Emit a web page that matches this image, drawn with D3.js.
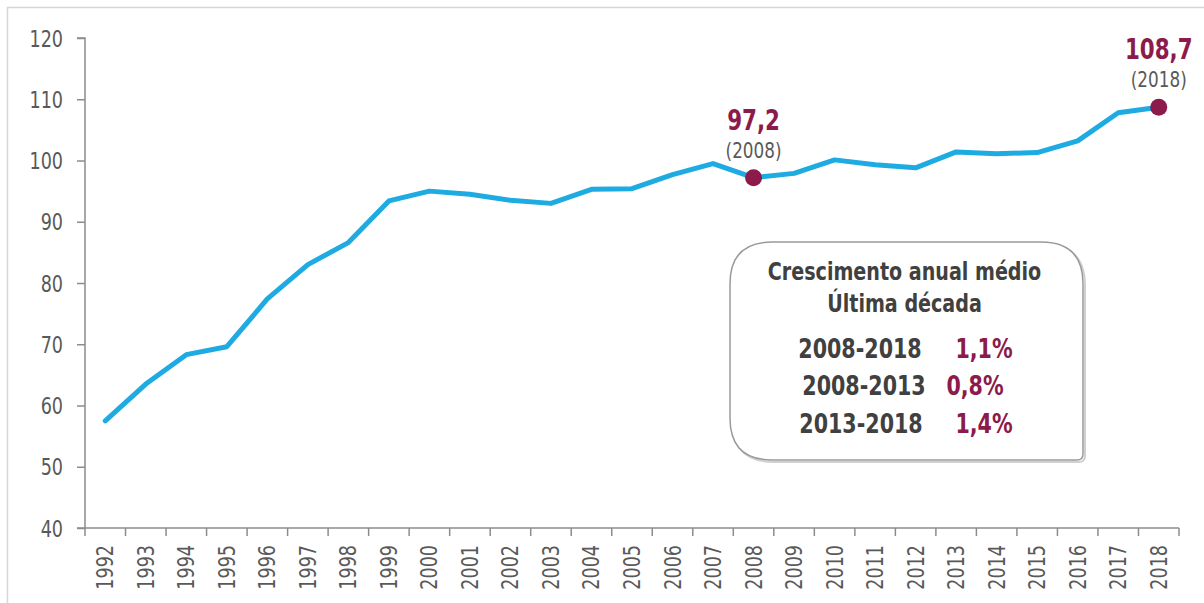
<!DOCTYPE html>
<html>
<head>
<meta charset="utf-8">
<script src="https://cdn.jsdelivr.net/npm/d3@7"></script>
<style>
  html, body { margin: 0; padding: 0; background: #fff; }
  svg { display: block; }
  text { font-family: "Liberation Sans Narrow", "DejaVu Sans Condensed", sans-serif; }
</style>
</head>
<body>
<svg id="chart" width="1204" height="603"></svg>
<script>
"use strict";

const years = [1992, 1993, 1994, 1995, 1996, 1997, 1998, 1999, 2000, 2001, 2002, 2003, 2004,
  2005, 2006, 2007, 2008, 2009, 2010, 2011, 2012, 2013, 2014, 2015, 2016, 2017, 2018];
const values = [57.5, 63.5, 68.3, 69.6, 77.4, 83.0, 86.6, 93.4, 95.0, 94.5, 93.5, 93.0, 95.3,
  95.4, 97.7, 99.5, 97.2, 97.9, 100.1, 99.3, 98.8, 101.4, 101.1, 101.3, 103.2, 107.8, 108.7];
const yTicks = [40, 50, 60, 70, 80, 90, 100, 110, 120];

const highlights = [
  { year: 2008, label: "97,2", sub: "(2008)" },
  { year: 2018, label: "108,7", sub: "(2018)" }
];

const boxTitle = ["Crescimento anual médio", "Última década"];
const boxPeriods = ["2008-2018", "2008-2013", "2013-2018"];
const boxRates = ["1,1%", "0,8%", "1,4%"];

const blue = "#1dabe2";
const maroon = "#8c1a4b";
const grey = "#595959";
const dark = "#404040";
const squeeze = 0.85; // condense the wide fallback font

const svg = d3.select("#chart");
const margin = { left: 85, right: 25, top: 38, bottom: 75 };
const width = 1204, height = 603;

// outer frame (top and left only visible)
svg.append("path")
  .attr("d", `M7.5,${height} V7.5 H${width}`)
  .attr("fill", "none")
  .attr("stroke", "#d6d6d6")
  .attr("stroke-width", 1.5);

const x = d3.scaleBand()
  .domain(years)
  .range([margin.left, width - margin.right]);

const y = d3.scaleLinear()
  .domain([40, 120])
  .range([height - margin.bottom, margin.top]);

const cx = (yr) => x(yr) + x.bandwidth() / 2;

// y axis
const yAxis = svg.append("g")
  .attr("transform", `translate(${margin.left},0)`)
  .call(d3.axisLeft(y).tickValues(yTicks).tickSize(8).tickPadding(14));
yAxis.selectAll("text").attr("font-size", 23).attr("fill", grey)
  .style("font-family", "'Liberation Sans Narrow', 'DejaVu Sans Condensed', sans-serif")
  .attr("x", null).attr("dy", null)
  .attr("transform", `translate(-22,8) scale(${squeeze},1)`);
yAxis.select(".domain").attr("stroke", "#8c8c8c").attr("stroke-width", 1.5)
  .attr("d", `M-8,${y(120)}H0V${y(40)}`);
yAxis.selectAll(".tick line").attr("stroke", "#8c8c8c").attr("stroke-width", 1.5);

// x axis: ticks on band boundaries
const xAxisG = svg.append("g")
  .attr("transform", `translate(0,${y(40)})`);
const bounds = years.map((d) => x(d)).concat([x(years[years.length - 1]) + x.bandwidth()]);
xAxisG.append("line")
  .attr("x1", margin.left - 8).attr("x2", bounds[bounds.length - 1])
  .attr("y1", 0).attr("y2", 0);
xAxisG.selectAll(".xtick").data(bounds).join("line")
  .attr("class", "xtick")
  .attr("x1", (d) => d).attr("x2", (d) => d)
  .attr("y1", 0).attr("y2", 8);
xAxisG.selectAll("line").attr("stroke", "#8c8c8c").attr("stroke-width", 1.5);
xAxisG.selectAll(".xlabel").data(years).join("text")
  .attr("class", "xlabel")
  .attr("transform", (d) => `translate(${cx(d) + 8},${17}) rotate(-90) scale(${squeeze},1)`)
  .attr("text-anchor", "end")
  .attr("font-size", 23)
  .attr("fill", grey)
  .text((d) => d);

// line
const line = d3.line()
  .x((d, i) => cx(years[i]))
  .y((d) => y(d));

svg.append("path")
  .datum(values)
  .attr("d", line)
  .attr("fill", "none")
  .attr("stroke", blue)
  .attr("stroke-width", 5)
  .attr("stroke-linejoin", "round")
  .attr("stroke-linecap", "round");

// highlighted points
const hl = svg.selectAll(".hl").data(highlights).join("g")
  .attr("class", "hl")
  .attr("transform", (d) => `translate(${cx(d.year)},${y(values[years.indexOf(d.year)])})`);
hl.append("circle").attr("r", 8.5).attr("fill", maroon);
hl.append("text")
  .attr("transform", `translate(0,-20) scale(${squeeze},1)`)
  .attr("text-anchor", "middle")
  .attr("font-size", 22)
  .attr("fill", grey)
  .text((d) => d.sub);
hl.append("text")
  .attr("transform", `translate(0,-48) scale(${squeeze},1)`)
  .attr("text-anchor", "middle")
  .attr("font-size", 28)
  .attr("font-weight", "bold")
  .attr("fill", maroon)
  .text((d) => d.label);

// annotation box
const bx = 730, by = 242, bw = 353, bh = 218;
const r1 = 42, r2 = 6;
const boxPath = `M${bx + r1},${by} H${bx + bw - r1} Q${bx + bw},${by} ${bx + bw},${by + r1}
  V${by + bh - r2} Q${bx + bw},${by + bh} ${bx + bw - r2},${by + bh}
  H${bx + r1} Q${bx},${by + bh} ${bx},${by + bh - r1}
  V${by + r1} Q${bx},${by} ${bx + r1},${by} Z`;
svg.append("path").attr("d", boxPath)
  .attr("transform", "translate(2,2)")
  .attr("fill", "none").attr("stroke", "#d0d0d0").attr("stroke-width", 2);
svg.append("path").attr("d", boxPath)
  .attr("fill", "#fff").attr("stroke", "#9a9a9a").attr("stroke-width", 1.5);

const box = svg.append("g").attr("font-weight", "bold");
box.selectAll(".bt").data(boxTitle).join("text")
  .attr("class", "bt")
  .attr("transform", (d, i) => `translate(${bx + bw / 2 - 2},${280 + i * 32}) scale(${squeeze},1)`)
  .attr("text-anchor", "middle")
  .attr("font-size", 25)
  .attr("fill", dark)
  .text((d) => d);

const rowY = [358, 395, 433];
const periodX = [860, 864, 861];
const rateX = [984, 975, 984];
box.selectAll(".bp").data(boxPeriods).join("text")
  .attr("class", "bp")
  .attr("transform", (d, i) => `translate(${periodX[i]},${rowY[i]}) scale(${squeeze},1)`)
  .attr("text-anchor", "middle")
  .attr("font-size", 27)
  .attr("fill", dark)
  .text((d) => d);
box.selectAll(".br").data(boxRates).join("text")
  .attr("class", "br")
  .attr("transform", (d, i) => `translate(${rateX[i]},${rowY[i]}) scale(${squeeze},1)`)
  .attr("text-anchor", "middle")
  .attr("font-size", 27)
  .attr("fill", maroon)
  .text((d) => d);
</script>
</body>
</html>
